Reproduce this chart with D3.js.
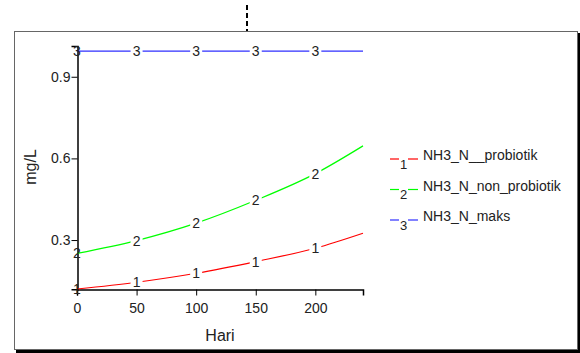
<!DOCTYPE html>
<html>
<head>
<meta charset="utf-8">
<script src="https://cdn.jsdelivr.net/npm/d3@7"></script>
<style>
  html, body { margin: 0; padding: 0; background: #fff; }
  svg { display: block; font-family: "Liberation Sans", Arial, sans-serif; }
</style>
</head>
<body>
<div id="chart"></div>
<script>
// data
const days = [0, 50, 100, 150, 200, 240];
const probiotik = [0.120, 0.145, 0.178, 0.221, 0.270, 0.325];
const nonProbiotik = [0.251, 0.298, 0.362, 0.446, 0.544, 0.646];
const maks = [0.994, 0.994, 0.994, 0.994, 0.994, 0.994];
const seriesNames = ['NH3_N__probiotik', 'NH3_N_non_probiotik', 'NH3_N_maks'];
const seriesColors = ['#ff0000', '#00ff00', '#2f2fff'];
const xTicks = [0, 50, 100, 150, 200];
const yTicks = [0.3, 0.6, 0.9];
const labelCount = 5; // curve numbers sit at the first five days

const width = 580, height = 353;
const svg = d3.select('#chart').append('svg')
  .attr('width', width)
  .attr('height', height);

// frame with drop shadow
svg.append('rect').attr('x', 16).attr('y', 33).attr('width', 564).attr('height', 320).attr('fill', '#000');
svg.append('rect').attr('x', 14.5).attr('y', 31.5).attr('width', 563).attr('height', 318)
  .attr('fill', '#fff').attr('stroke', '#666').attr('stroke-width', 1);

// dashed marker above the frame
svg.append('line')
  .attr('x1', 247).attr('x2', 247).attr('y1', 5).attr('y2', 31)
  .attr('stroke', '#000').attr('stroke-width', 2).attr('stroke-dasharray', '5,3');

const x = d3.scaleLinear().domain([0, 240]).range([77, 363]);
const y = d3.scaleLinear().domain([0.119, 1.013]).range([289.3, 46]);

// axes
const xAxis = svg.append('g')
  .attr('transform', 'translate(0,289.5)')
  .call(d3.axisBottom(x).tickValues(xTicks).tickSizeOuter(0).tickSize(6).tickPadding(8).tickFormat(d3.format('d')));
const yAxis = svg.append('g')
  .attr('transform', 'translate(77.5,0)')
  .call(d3.axisLeft(y).tickValues(yTicks).tickSizeOuter(0).tickSize(6).tickPadding(1).tickFormat(d3.format('.1f')));

[xAxis, yAxis].forEach(g => {
  g.select('.domain').attr('stroke', '#000').attr('stroke-width', 1.5);
  g.selectAll('.tick line').attr('stroke', '#000');
  g.selectAll('.tick text').attr('fill', '#222').style('font-size', '14px')
    .style('font-family', '"Liberation Sans", Arial, sans-serif');
});

// axis titles
svg.append('text')
  .attr('x', 220).attr('y', 341)
  .attr('text-anchor', 'middle')
  .attr('fill', '#222')
  .style('font-size', '16px')
  .text('Hari');
svg.append('text')
  .attr('transform', 'translate(36,167) rotate(-90)')
  .attr('text-anchor', 'middle')
  .attr('fill', '#222')
  .style('font-size', '16px')
  .text('mg/L');

// curves
const allSeries = [probiotik, nonProbiotik, maks];
const line = d3.line()
  .x((d, i) => x(days[i]))
  .y(d => y(d))
  .curve(d3.curveMonotoneX);

allSeries.forEach((vals, s) => {
  svg.append('path')
    .datum(vals)
    .attr('d', line)
    .attr('fill', 'none')
    .attr('stroke', seriesColors[s])
    .attr('stroke-width', 1.2);
});

// curve numbers, with a white gap in the line
allSeries.forEach((vals, s) => {
  const g = svg.append('g');
  vals.slice(0, labelCount).forEach((v, i) => {
    const px = x(days[i]), py = y(v);
    if (i > 0) {
      g.append('rect')
        .attr('x', px - 6).attr('y', py - 5)
        .attr('width', 12).attr('height', 10)
        .attr('fill', '#fff');
    }
    g.append('text')
      .attr('x', px).attr('y', py)
      .attr('dy', '0.36em')
      .attr('text-anchor', 'middle')
      .attr('fill', '#222')
      .style('font-size', '14px')
      .text(s + 1);
  });
});

// legend
const legendRows = [159, 189.5, 220];
seriesNames.forEach((name, s) => {
  const ly = legendRows[s];
  svg.append('line')
    .attr('x1', 390).attr('x2', 399).attr('y1', ly).attr('y2', ly)
    .attr('stroke', seriesColors[s]).attr('stroke-width', 1.2);
  svg.append('line')
    .attr('x1', 408).attr('x2', 418).attr('y1', ly).attr('y2', ly)
    .attr('stroke', seriesColors[s]).attr('stroke-width', 1.2);
  svg.append('text')
    .attr('x', 403.5).attr('y', ly + 5)
    .attr('dy', '0.36em')
    .attr('text-anchor', 'middle')
    .attr('fill', '#222')
    .style('font-size', '13px')
    .text(s + 1);
  svg.append('text')
    .attr('x', 423).attr('y', ly - 4)
    .attr('dy', '0.36em')
    .attr('fill', '#222')
    .style('font-size', '14px')
    .text(name);
});
</script>
</body>
</html>
